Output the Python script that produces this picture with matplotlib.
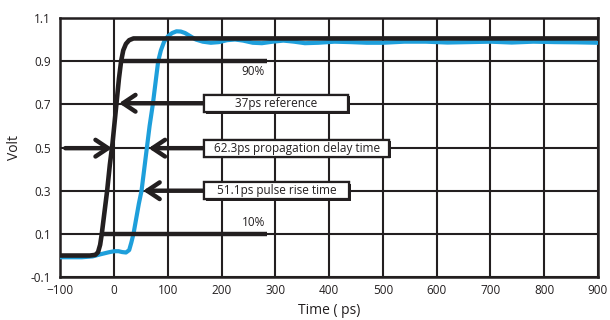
import numpy as np
import matplotlib
matplotlib.use("Agg")
import matplotlib.pyplot as plt
from matplotlib.patches import FancyBboxPatch
import matplotlib.patheffects as pe

plt.rcParams['font.family'] = ['Open Sans', 'DejaVu Sans']

# reference pulse (black)
ref_t = [-100, -45, -35, -30, -26, -23, -18, -13, -8, -3, 1, 5, 9, 13, 17, 22, 28, 36, 900]
ref_v = [0.0, 0.0, 0.003, 0.015, 0.05, 0.1, 0.2, 0.3, 0.42, 0.52, 0.62, 0.72, 0.82, 0.9, 0.95,
         0.98, 0.997, 1.005, 1.005]

# delayed pulse (blue)
dut_t = [-100, -60, -40, -25, -10, 0, 8, 15, 22, 28, 32, 36, 41, 46, 51, 56, 61, 66, 72, 77,
         82, 87, 93, 100, 108, 116, 124, 132, 142, 152, 165, 180, 195, 210, 225, 240, 258, 275,
         295, 315, 335, 355, 380, 410, 440, 470, 500, 540, 580, 620, 660, 700, 740, 780, 820,
         860, 900]
dut_v = [-0.008, -0.008, -0.004, 0.006, 0.015, 0.02, 0.02, 0.016, 0.014, 0.025, 0.06, 0.1,
         0.17, 0.24, 0.3, 0.4, 0.5, 0.6, 0.7, 0.8, 0.9, 0.95, 0.99, 1.015, 1.03, 1.038, 1.037,
         1.03, 1.015, 1.0, 0.99, 0.985, 0.988, 0.997, 1.0, 0.995, 0.985, 0.983, 0.99, 0.995,
         0.99, 0.983, 0.985, 0.99, 0.988, 0.985, 0.985, 0.99, 0.99, 0.986, 0.988, 0.99, 0.986,
         0.99, 0.988, 0.987, 0.985]

xticks = list(range(-100, 901, 100))
yticks = [-0.1, 0.1, 0.3, 0.5, 0.7, 0.9, 1.1]

# threshold lines: (level, x start, x end, label, label y)
levels = [(0.9, 15, 285, "90%", 0.85), (0.1, -22, 285, "10%", 0.155)]

# labelled arrows: (text, level, arrow tip, box right edge)
notes = [("37ps reference", 0.705, 9, 435),
         ("62.3ps propagation delay time", 0.497, 64, 512),
         ("51.1ps pulse rise time", 0.30, 54, 437)]

blk = "#231f20"
blue = "#1e9fdb"
head = "->,head_length=0.45,head_width=0.3"

fig = plt.figure(figsize=(6.1, 3.2), dpi=100)
ax = fig.add_axes([0.099, 0.134, 0.881, 0.81])

ax.set_xlim(-100, 900)
ax.set_ylim(-0.1, 1.1)
ax.set_xticks(xticks)
ax.set_yticks(yticks)
ax.set_yticklabels([f"{v:.1f}" for v in yticks])
ax.tick_params(length=0, labelsize=8.5, colors=blk)
ax.tick_params(axis="y", pad=7)
ax.tick_params(axis="x", pad=5)
ax.grid(True, color=blk, lw=1.5)
ax.set_axisbelow(True)
for s in ax.spines.values():
    s.set_color(blk)
    s.set_linewidth(1.8)

ax.plot(dut_t, dut_v, color=blue, lw=3.0, zorder=3, solid_joinstyle="round")
ax.plot(ref_t, ref_v, color=blk, lw=3.3, zorder=4, solid_joinstyle="round")

for lvl, x0, x1, lab, ly in levels:
    ax.plot([x0, x1], [lvl, lvl], color=blk, lw=3.2, zorder=5, solid_capstyle="butt")
    ax.text(259, ly, lab, ha="center", va="center", fontsize=8.5, color=blk, zorder=6)

box_left = 167
box_h = 0.08
for txt, lvl, tip, right in notes:
    ax.annotate("", xy=(tip, lvl), xytext=(box_left, lvl),
                arrowprops=dict(arrowstyle=head, lw=3.2, color=blk, mutation_scale=20,
                                shrinkA=0, shrinkB=0),
                zorder=6)
    box = FancyBboxPatch((box_left, lvl - box_h / 2), right - box_left, box_h,
                         boxstyle="square,pad=0", fc="white", ec=blk, lw=1.6, zorder=7,
                         path_effects=[pe.withSimplePatchShadow(offset=(1.2, -1.2),
                                                                shadow_rgbFace=blk, alpha=1),
                                       pe.Normal()])
    ax.add_patch(box)
    ax.text((box_left + right) / 2, lvl, txt, ha="center", va="center",
            fontsize=8.5, color=blk, zorder=8)

# inward arrow on the left of the delay marker
ax.annotate("", xy=(-4, 0.497), xytext=(-91, 0.497),
            arrowprops=dict(arrowstyle=head, lw=3.2, color=blk, mutation_scale=20,
                            shrinkA=0, shrinkB=0),
            zorder=6)

ax.set_ylabel("Volt", fontsize=10, color=blk, labelpad=6)
ax.set_xlabel("Time ( ps)", fontsize=10, color=blk, labelpad=4)

fig.savefig("out.png", dpi=100)
